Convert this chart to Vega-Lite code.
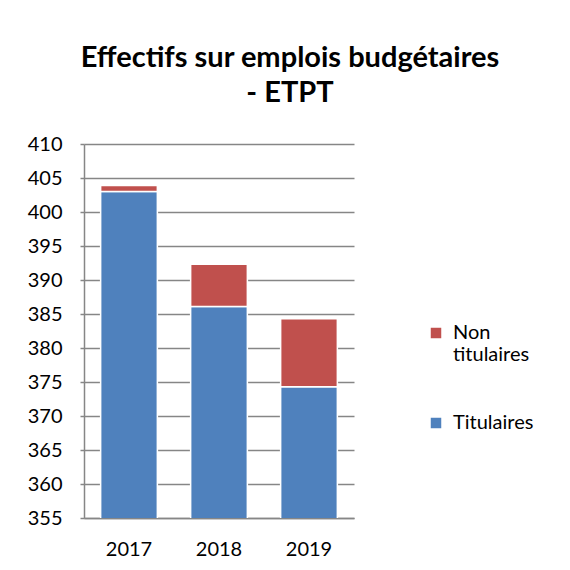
{
  "$schema": "https://vega.github.io/schema/vega-lite/v6.json",
  "width": 270,
  "height": 374,
  "autosize": "none",
  "padding": {"left": 84, "top": 144, "right": 216, "bottom": 52},
  "background": "white",
  "title": {
    "text": ["Effectifs sur emplois budgétaires", "- ETPT"],
    "font": "Lato",
    "fontSize": 29,
    "fontWeight": "bold",
    "color": "black",
    "lineHeight": 35,
    "anchor": "middle",
    "dx": 71,
    "offset": 26
  },
  "data": {
    "values": [
      {"year": "2017", "series": "Titulaires", "value": 403.0},
      {"year": "2017", "series": "Non titulaires", "value": 0.9},
      {"year": "2018", "series": "Titulaires", "value": 386.1},
      {"year": "2018", "series": "Non titulaires", "value": 6.2},
      {"year": "2019", "series": "Titulaires", "value": 374.3},
      {"year": "2019", "series": "Non titulaires", "value": 10.0}
    ]
  },
  "mark": {"type": "bar", "clip": true, "stroke": "white", "strokeWidth": 1.5},
  "encoding": {
    "x": {
      "field": "year",
      "type": "nominal",
      "scale": {"paddingInner": 0.37, "paddingOuter": 0.185},
      "axis": {
        "title": null,
        "labelAngle": 0,
        "labelFont": "Lato",
        "labelFontSize": 20,
        "labelColor": "black",
        "labelPadding": 21,
        "ticks": false,
        "domainColor": "#868686",
        "domainWidth": 1.5
      }
    },
    "y": {
      "field": "value",
      "type": "quantitative",
      "stack": "zero",
      "scale": {"domain": [355, 410], "zero": false, "nice": false},
      "axis": {
        "title": null,
        "values": [355, 360, 365, 370, 375, 380, 385, 390, 395, 400, 405, 410],
        "labelFont": "Lato",
        "labelFontSize": 20,
        "labelColor": "black",
        "labelPadding": 18,
        "tickSize": 4,
        "tickColor": "#868686",
        "tickWidth": 1.5,
        "domainColor": "#868686",
        "domainWidth": 1.5,
        "gridColor": "#868686",
        "gridWidth": 1.5
      }
    },
    "color": {
      "field": "series",
      "type": "nominal",
      "scale": {"domain": ["Non titulaires", "Titulaires"], "range": ["#C0504D", "#4F81BD"]},
      "legend": {
        "title": null,
        "orient": "none",
        "legendX": 342,
        "legendY": 179,
        "symbolType": "square",
        "symbolSize": 110,
        "symbolStrokeWidth": 0,
        "labelFont": "Lato",
        "labelFontSize": 20,
        "labelColor": "black",
        "labelLimit": 0,
        "rowPadding": 48,
        "labelOffset": 7,
        "labelExpr": "datum.label == 'Non titulaires' ? ['Non', 'titulaires'] : datum.label"
      }
    },
    "order": {"field": "series", "sort": "descending"}
  },
  "config": {"view": {"stroke": null}}
}
